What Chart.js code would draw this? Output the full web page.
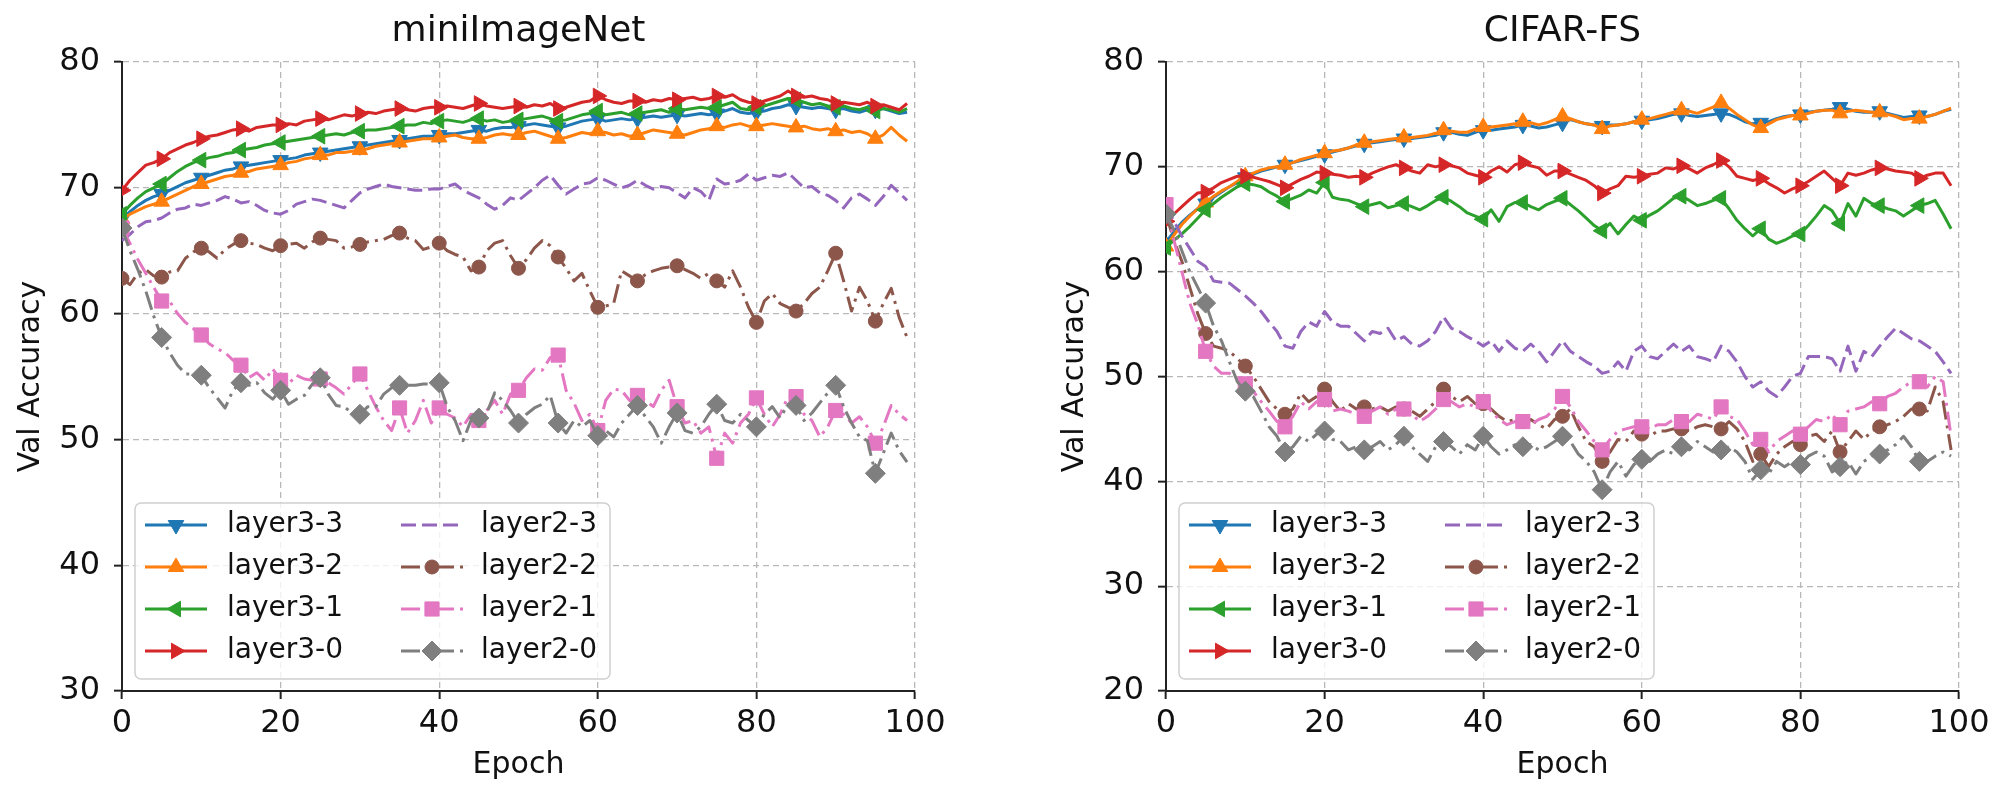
<!DOCTYPE html>
<html>
<head>
<meta charset="utf-8">
<script src="https://cdn.jsdelivr.net/npm/chart.js@4.4.1/dist/chart.umd.min.js"></script>
<style>
  html, body { margin: 0; padding: 0; background: #fff; overflow: hidden; }
  #wrap { position: relative; width: 1997px; height: 787px; }
  canvas { position: absolute; top: 0; }
  #left { left: 0; }
  #right { left: 1044px; }
</style>
</head>
<body>
<div id="wrap">
  <canvas id="left" width="1000" height="787"></canvas>
  <canvas id="right" width="953" height="787"></canvas>
</div>
<script>
// epochs 0..99
const epochs = Array.from({ length: 100 }, (_, i) => i);
const seriesNames = ["layer3-3", "layer3-2", "layer3-1", "layer3-0", "layer2-3", "layer2-2", "layer2-1", "layer2-0"];
const xTicks = [0, 20, 40, 60, 80, 100];
const miniYTicks = [30, 40, 50, 60, 70, 80];
const cifarYTicks = [20, 30, 40, 50, 60, 70, 80];

// miniImageNet
const miniL33 = [67.5,68.1,68.6,69.0,69.3, 69.5,69.8,70.1,70.4,70.6, 70.8,71.0,71.2,71.4,71.5, 71.7,71.8,71.9,72.0,72.1,
  72.2,72.3,72.4,72.6,72.7, 72.8,72.9,73.0,73.1,73.2, 73.3,73.4,73.5,73.6,73.7, 73.8,73.9,74.0,74.1,74.1,
  74.2,74.3,74.3,74.4,74.5, 74.6,74.5,74.7,74.8,74.8, 74.9,75.0,75.1,75.0,74.9, 74.8,74.9,75.1,75.3,75.4,
  75.5,75.3,75.4,75.5,75.4, 75.5,75.6,75.7,75.6,75.7, 75.8,75.7,75.8,75.9,75.8, 75.9,76.1,76.3,76.0,75.9,
  76.0,76.1,76.3,76.4,76.6, 76.5,76.4,76.3,76.4,76.3, 76.2,76.3,76.1,76.0,76.2, 76.2,76.3,76.1,75.9,76.0];
const miniL32 = [67.5,67.9,68.2,68.5,68.7, 68.9,69.2,69.5,69.8,70.1, 70.3,70.5,70.7,70.9,71.0, 71.2,71.3,71.5,71.6,71.7,
  71.8,72.0,72.1,72.3,72.4, 72.6,72.6,72.8,72.8,72.9, 73.0,73.1,73.3,73.4,73.5, 73.6,73.7,73.8,73.9,73.9,
  74.0,74.1,74.2,74.0,73.9, 73.9,74.0,74.2,74.3,74.2, 74.2,74.4,74.5,74.3,74.1, 73.9,74.0,74.2,74.4,74.3,
  74.5,74.4,74.2,74.3,74.1, 74.2,74.4,74.6,74.5,74.4, 74.3,74.2,74.4,74.6,74.7, 74.9,74.8,75.0,75.1,74.9,
  74.9,75.0,75.1,75.0,74.9, 74.8,74.9,74.7,74.6,74.7, 74.5,74.6,74.4,74.5,74.3, 73.9,74.2,74.8,74.2,73.7];
const miniL31 = [67.9,68.6,69.2,69.7,70.0, 70.3,70.8,71.3,71.7,72.0, 72.2,72.4,72.5,72.7,72.8, 73.0,73.1,73.2,73.4,73.5,
  73.6,73.7,73.8,73.9,74.0, 74.1,74.2,74.3,74.2,74.4, 74.5,74.6,74.6,74.7,74.8, 74.9,75.0,75.0,75.2,75.1,
  75.3,75.4,75.3,75.2,75.4, 75.5,75.3,75.4,75.2,75.3, 75.4,75.5,75.6,75.7,75.5, 75.3,75.4,75.6,75.8,75.9,
  76.1,75.8,75.9,76.0,75.8, 75.9,76.0,76.1,76.2,76.0, 76.3,76.2,76.3,76.4,76.3, 76.4,76.6,76.8,76.3,76.2,
  76.4,76.5,76.7,76.9,77.1, 77.0,76.8,76.6,76.7,76.5, 76.4,76.5,76.3,76.2,76.4, 76.1,76.3,76.2,76.0,76.3];
const miniL30 = [69.8,70.6,71.2,71.8,72.0, 72.3,72.8,73.1,73.4,73.6, 73.9,74.1,74.2,74.4,74.6, 74.7,74.5,74.8,74.9,75.0,
  75.0,75.1,75.0,75.3,75.4, 75.5,75.4,75.6,75.8,75.7, 75.9,76.0,75.9,76.1,76.2, 76.3,76.2,76.1,76.3,76.4,
  76.4,76.5,76.4,76.3,76.5, 76.7,76.5,76.4,76.3,76.4, 76.5,76.4,76.6,76.5,76.7, 76.3,76.4,76.6,76.8,76.9,
  77.3,77.0,76.8,76.7,76.9, 76.9,76.8,77.0,76.9,77.1, 77.0,77.1,77.2,77.0,77.1, 77.3,77.2,77.4,77.0,76.8,
  76.7,76.9,77.1,77.3,77.7, 77.3,77.2,77.3,77.1,77.0, 76.7,76.8,76.7,76.6,76.8, 76.5,76.6,76.4,76.2,76.7];
const miniL23 = [65.8,66.3,66.9,67.3,67.4, 67.6,68.0,68.3,68.4,68.7, 68.6,68.8,69.0,69.3,69.1, 68.8,68.9,68.6,68.2,68.0,
  67.9,68.2,68.7,68.9,69.1, 69.0,68.8,68.6,68.4,69.0, 69.6,69.9,70.1,70.3,70.1, 70.0,69.9,69.8,69.8,69.9,
  69.9,70.1,70.3,69.8,69.5, 69.2,68.7,68.3,68.6,69.2, 69.0,69.5,70.0,70.6,71.0, 70.2,69.5,69.9,70.3,70.4,
  70.8,70.6,70.3,70.0,70.2, 70.6,70.2,69.9,70.1,70.0, 69.6,69.2,70.0,69.7,69.0, 70.7,70.3,70.4,70.6,71.1,
  70.6,70.8,71.0,70.9,71.2, 70.6,70.0,70.1,69.6,69.4, 69.0,68.4,69.2,69.5,69.1, 68.6,69.3,70.2,69.6,69.0];
const miniL22 = [62.8,62.3,63.2,63.5,63.0, 62.9,63.3,63.4,64.4,64.9, 65.2,64.9,64.4,65.1,65.5, 65.8,65.6,65.5,65.2,65.0,
  65.4,65.5,65.6,65.2,65.7, 66.0,65.9,65.8,65.2,65.3, 65.5,65.7,65.8,65.9,66.2, 66.4,66.0,65.8,65.1,65.3,
  65.6,65.0,64.7,64.5,63.4, 63.7,65.0,65.6,65.8,64.6, 63.6,64.3,65.2,65.8,65.4, 64.5,63.6,62.6,63.2,61.8,
  60.5,60.6,60.8,63.4,63.0, 62.6,63.1,63.4,63.6,63.7, 63.8,63.5,63.2,62.8,63.2, 62.6,62.1,63.4,62.1,60.5,
  59.3,61.0,61.6,60.8,60.5, 60.2,60.8,61.6,62.1,63.4, 64.8,62.6,60.2,62.1,61.0, 59.4,60.8,62.0,59.7,58.1];
const miniL21 = [66.8,65.6,64.3,63.2,62.1, 61.0,61.0,60.0,59.3,58.8, 58.3,57.6,57.2,56.9,56.3, 55.9,54.9,55.3,54.7,55.6,
  54.7,54.4,55.1,54.8,54.7, 54.8,54.5,54.1,53.6,54.4, 55.2,53.9,52.6,51.5,50.7, 52.5,50.5,51.5,53.1,51.3,
  52.5,52.0,51.7,51.0,52.0, 51.5,52.3,53.1,52.0,53.6, 53.9,54.9,55.6,55.5,56.5, 56.7,53.9,52.9,51.5,52.0,
  50.7,53.1,54.0,53.9,53.1, 53.5,53.1,52.6,53.9,54.7, 52.6,51.3,51.5,50.5,51.0, 48.5,50.5,49.7,51.3,52.0,
  53.3,52.0,51.0,52.0,53.4, 53.4,52.0,51.5,50.2,51.0, 52.3,52.0,51.3,51.8,51.0, 49.7,51.0,52.7,52.0,51.5];
const miniL20 = [66.8,65.0,63.5,61.8,59.8, 58.1,56.9,55.9,55.2,55.2, 55.1,54.1,53.3,52.5,53.9, 54.5,54.3,54.5,53.7,53.2,
  53.9,52.8,53.2,53.5,54.4, 54.9,53.6,52.7,52.6,52.1, 52.0,52.6,52.6,53.6,54.1, 54.3,54.3,54.3,54.4,54.4,
  54.5,52.6,51.5,49.9,51.5, 51.7,52.1,53.7,53.1,52.3, 51.3,52.0,52.5,52.8,53.5, 51.3,50.5,51.5,51.0,51.5,
  50.3,50.7,50.2,51.3,52.0, 52.7,51.8,51.0,49.7,51.0, 52.1,50.7,50.5,51.0,52.0, 52.8,51.5,51.3,52.0,51.5,
  51.0,52.0,52.6,51.7,52.8, 52.7,51.5,52.1,52.9,53.7, 54.3,52.6,51.3,50.2,49.9, 47.3,48.9,50.5,49.1,48.2];

// CIFAR-FS
const cifarL33 = [62.8,63.8,64.7,65.4,66.0, 66.5,67.1,67.6,68.1,68.5, 69.0,69.3,69.6,69.8,70.0, 70.2,70.4,70.6,70.8,71.0,
  71.2,71.4,71.6,71.8,72.0, 72.2,72.3,72.4,72.5,72.6, 72.7,72.7,72.8,72.9,73.0, 73.3,73.3,73.1,73.0,73.3,
  73.5,73.5,73.6,73.7,73.8, 74.0,73.9,73.7,73.8,74.0, 74.2,74.5,74.3,74.1,74.0, 73.9,74.0,74.0,74.1,74.3,
  74.4,74.5,74.6,74.8,75.0, 75.1,74.9,74.8,74.9,75.0, 75.1,75.0,74.7,74.3,74.1, 74.2,74.3,74.6,74.8,74.9,
  75.0,75.2,75.3,75.4,75.5, 75.7,75.5,75.3,75.2,75.2, 75.3,75.1,74.9,74.7,74.8, 74.9,74.8,75.0,75.3,75.5];
const cifarL32 = [62.4,63.5,64.5,65.3,66.0, 66.6,67.2,67.7,68.1,68.6, 69.1,69.4,69.7,69.9,70.0, 70.2,70.4,70.7,70.9,71.1,
  71.3,71.5,71.6,71.8,72.1, 72.3,72.4,72.5,72.6,72.7, 72.8,72.8,72.9,73.0,73.2, 73.5,73.4,73.3,73.3,73.6,
  73.8,73.8,73.9,74.0,74.1, 74.3,74.2,74.0,74.2,74.5, 74.8,74.6,74.3,74.1,74.0, 73.6,73.9,74.0,74.1,74.3,
  74.5,74.6,74.8,75.0,75.2, 75.4,75.3,75.1,75.4,75.7, 76.1,75.6,75.0,74.5,74.0, 73.7,74.1,74.5,74.7,74.9,
  74.9,75.1,75.3,75.4,75.4, 75.1,75.3,75.4,75.3,75.2, 75.2,75.0,74.8,74.5,74.6, 74.6,74.8,75.0,75.3,75.6];
const cifarL31 = [62.3,63.0,63.6,64.3,65.1, 65.9,66.5,67.1,67.6,68.1, 68.4,68.3,68.1,67.6,67.2, 66.7,67.0,67.3,67.8,67.5,
  68.5,67.1,66.9,66.8,66.5, 66.2,66.4,66.6,66.1,66.3, 66.5,66.2,65.9,66.3,66.8, 67.1,66.7,66.2,65.6,65.3,
  65.0,65.9,64.8,66.2,66.6, 66.6,66.2,65.9,66.4,66.7, 67.0,66.4,65.8,65.1,64.4, 63.9,64.6,63.6,64.5,65.3,
  64.9,65.4,65.8,66.4,67.0, 67.2,66.8,66.3,66.5,66.8, 67.0,66.0,64.9,64.1,63.4, 64.1,63.1,62.7,63.0,63.4,
  63.6,64.4,65.3,66.3,65.8, 64.6,66.5,65.3,67.0,66.5, 66.3,66.0,65.8,65.3,65.8, 66.3,66.5,66.8,65.5,64.1];
const cifarL30 = [64.8,65.5,66.2,66.9,67.5, 67.6,68.0,68.5,68.8,69.1, 69.1,69.0,68.8,68.6,68.3, 68.0,68.4,68.8,69.1,69.5,
  69.4,69.3,69.2,69.0,69.1, 69.0,69.4,69.7,70.0,70.2, 69.9,69.6,69.4,70.2,70.0, 70.2,70.1,69.9,69.4,69.2,
  69.0,69.6,70.0,69.5,70.2, 70.4,70.1,69.9,69.2,69.6, 69.6,69.3,69.0,68.7,68.2, 67.5,67.9,68.2,69.1,69.0,
  69.1,69.3,69.4,69.9,69.8, 70.1,69.8,69.4,69.9,70.2, 70.6,70.0,69.1,68.9,68.7, 68.9,68.4,68.0,67.5,67.9,
  68.2,68.6,69.1,69.6,68.9, 68.2,69.4,69.2,69.4,69.7, 69.9,69.8,69.6,69.5,69.4, 68.9,69.2,69.4,69.4,68.2];
const cifarL23 = [66.3,64.8,63.4,62.2,61.0, 60.5,59.1,59.0,58.9,58.3, 57.7,57.0,56.2,55.2,54.3, 52.9,52.7,54.3,55.2,54.8,
  56.2,55.2,54.8,54.8,54.1, 53.4,54.3,54.1,54.6,53.4, 53.8,53.1,52.9,53.4,54.3, 55.7,54.6,54.3,53.8,53.4,
  52.9,53.4,52.4,53.4,52.7, 52.4,53.1,52.4,51.4,52.4, 53.4,52.4,51.9,51.4,51.0, 50.3,50.5,51.4,50.5,52.4,
  52.9,51.9,51.7,52.4,53.1, 52.4,52.9,51.9,51.7,51.4, 52.9,52.4,51.4,50.0,49.0, 49.5,48.6,48.1,49.0,50.0,
  50.3,51.9,51.9,51.9,51.7, 50.5,52.9,50.5,52.4,51.9, 52.9,53.8,54.6,54.1,53.6, 53.4,52.9,52.4,51.4,50.3];
const cifarL22 = [65.5,63.0,61.0,58.5,56.0, 54.1,52.9,52.7,52.4,51.7, 51.0,50.0,48.8,47.6,46.9, 46.4,46.9,48.4,47.6,48.1,
  48.8,47.6,46.7,47.4,46.9, 47.1,46.9,47.1,46.7,47.1, 46.9,46.7,46.2,46.9,47.6, 48.8,48.1,47.6,48.1,47.4,
  47.4,46.9,46.2,45.7,45.9, 45.7,45.9,45.4,45.0,45.9, 46.2,46.9,45.2,43.8,43.3, 41.9,42.8,44.0,43.8,44.8,
  44.5,44.3,44.8,44.8,45.0, 45.0,44.8,45.2,45.4,45.2, 45.0,45.7,45.0,43.8,41.9, 42.6,41.4,42.6,43.3,43.8,
  43.5,44.3,44.5,43.8,44.8, 42.8,43.8,44.8,44.0,44.8, 45.2,45.4,45.7,46.2,46.9, 46.9,46.7,49.0,47.6,43.0];
const cifarL21 = [66.4,63.0,60.0,57.0,55.0, 52.4,51.0,50.3,50.3,49.8, 49.3,48.6,47.6,46.7,45.7, 45.2,46.2,47.6,46.9,47.6,
  47.8,46.7,46.9,46.7,46.4, 46.2,46.7,47.1,46.4,46.9, 46.9,46.4,45.7,46.2,46.9, 47.8,47.6,47.1,47.4,47.1,
  47.6,46.7,45.9,45.4,45.7, 45.7,45.4,45.9,46.2,46.9, 48.1,47.1,45.7,44.8,43.8, 43.0,44.0,44.8,45.0,45.2,
  45.2,45.0,45.4,45.4,45.9, 45.7,45.7,46.4,46.2,45.9, 47.1,46.2,45.9,44.8,43.5, 44.0,42.8,43.8,44.3,44.8,
  44.5,45.2,45.9,45.7,46.4, 45.4,46.7,46.9,47.1,47.6, 47.4,48.1,48.4,49.0,49.5, 49.5,49.0,50.0,49.5,44.3];
const cifarL20 = [65.5,64.0,62.0,60.0,58.5, 57.0,54.8,53.4,51.4,49.5, 48.6,48.1,46.7,45.2,44.3, 42.8,43.3,44.3,43.8,44.5,
  44.8,44.0,43.8,43.0,43.3, 43.0,43.3,43.8,43.0,43.5, 44.3,43.3,42.6,41.9,43.3, 43.8,43.3,42.6,43.5,43.0,
  44.3,43.3,42.6,43.0,43.5, 43.3,43.5,43.0,43.3,43.8, 44.3,43.8,42.6,41.9,40.9, 39.2,40.9,41.9,40.5,41.6,
  42.1,41.9,42.6,43.0,42.6, 43.3,43.0,43.8,43.3,42.8, 43.0,43.3,42.8,41.9,40.2, 41.1,40.7,41.9,41.4,41.9,
  41.6,42.4,42.8,42.4,40.9, 41.4,41.9,40.7,41.9,42.4, 42.6,43.0,43.5,44.3,43.3, 41.9,41.9,42.4,42.8,42.4];

const miniSeries = [miniL33, miniL32, miniL31, miniL30, miniL23, miniL22, miniL21, miniL20];
const cifarSeries = [cifarL33, cifarL32, cifarL31, cifarL30, cifarL23, cifarL22, cifarL21, cifarL20];

const looks = [
  { color: "#1f77b4", marker: "triangle", rot: 180, r: 9, dash: [] },
  { color: "#ff7f0e", marker: "triangle", rot: 0, r: 9, dash: [] },
  { color: "#2ca02c", marker: "triangle", rot: -90, r: 9, dash: [] },
  { color: "#d62728", marker: "triangle", rot: 90, r: 9, dash: [] },
  { color: "#9467bd", marker: false, rot: 0, r: 0, dash: [15, 6] },
  { color: "#8c564b", marker: "circle", rot: 0, r: 7, dash: [19, 6, 3, 6] },
  { color: "#e377c2", marker: "rect", rot: 0, r: 10, dash: [19, 6, 3, 6] },
  { color: "#7f7f7f", marker: "rectRot", rot: 0, r: 10, dash: [19, 6, 3, 6] },
];

const FONT = "'DejaVu Sans', sans-serif";

const overlay = {
  id: "overlay",
  afterDraw(chart, args, opts) {
    const ctx = chart.ctx;
    const a = chart.chartArea;
    ctx.save();
    // title
    ctx.fillStyle = "#111";
    ctx.font = "36px " + FONT;
    ctx.textAlign = "center";
    ctx.textBaseline = "middle";
    ctx.fillText(opts.title, (a.left + a.right) / 2, 32);

    // legend
    const bw = 475, bh = 176;
    const bx = a.left + 13, by = a.bottom - 12 - bh;
    ctx.beginPath();
    ctx.roundRect(bx, by, bw, bh, 6);
    ctx.fillStyle = "rgba(255,255,255,0.8)";
    ctx.fill();
    ctx.strokeStyle = "#d0d0d0";
    ctx.lineWidth = 1.5;
    ctx.stroke();

    ctx.font = "28px " + FONT;
    ctx.textAlign = "left";
    chart.data.datasets.forEach((ds, i) => {
      const col = Math.floor(i / 4), row = i % 4;
      const hx = bx + (col ? 266 : 10);
      const cy = by + 22 + row * 42;
      ctx.strokeStyle = ds.borderColor;
      ctx.lineWidth = 3;
      ctx.setLineDash(ds.borderDash);
      ctx.beginPath();
      ctx.moveTo(hx, cy);
      ctx.lineTo(hx + 62, cy);
      ctx.stroke();
      ctx.setLineDash([]);
      const lk = looks[i];
      if (lk.marker) {
        ctx.fillStyle = lk.color;
        ctx.strokeStyle = lk.color;
        ctx.lineWidth = 1;
        Chart.helpers.drawPoint(ctx, { pointStyle: lk.marker, rotation: lk.rot, radius: lk.r, borderWidth: 1 }, hx + 31, cy);
      }
      ctx.fillStyle = "#111";
      ctx.fillText(ds.label, bx + (col ? 346 : 92), cy);
    });
    ctx.restore();
  },
};

function buildChart(canvasId, title, series, yMin, yMax) {
  const canvas = document.getElementById(canvasId);
  const datasets = series.map((vals, i) => ({
    label: seriesNames[i],
    data: vals,
    borderColor: looks[i].color,
    backgroundColor: looks[i].color,
    borderWidth: 3,
    borderDash: looks[i].dash,
    borderJoinStyle: "round",
    pointStyle: looks[i].marker,
    pointRotation: looks[i].rot,
    pointRadius: (c) => (c.dataIndex % 5 === 0 ? looks[i].r : 0),
    pointHoverRadius: 0,
    pointBorderWidth: 1,
    pointBorderColor: looks[i].color,
    pointBackgroundColor: looks[i].color,
    fill: false,
    order: 8 - i,
  }));

  return new Chart(canvas, {
    type: "line",
    data: { labels: epochs, datasets },
    options: {
      responsive: false,
      animation: false,
      devicePixelRatio: 1,
      events: [],
      layout: { padding: { left: 0, right: canvas.width - 915, top: 62, bottom: 0 } },
      plugins: {
        legend: { display: false },
        tooltip: { enabled: false },
        overlay: { title },
      },
      scales: {
        x: {
          type: "linear",
          min: 0,
          max: 100,
          afterBuildTicks: (s) => { s.ticks = xTicks.map((v) => ({ value: v })); },
          afterFit: (s) => { s.height = 96; s.paddingLeft = 0; s.paddingRight = 0; },
          ticks: { color: "#111", padding: 5, font: { family: FONT, size: 32 } },
          grid: { color: "#b8b8b8", lineWidth: 1.3, tickLength: 8, tickColor: "#222", tickWidth: 2, tickBorderDash: [] },
          border: { color: "#222", width: 2, dash: [6, 4] },
          title: { display: true, text: "Epoch", color: "#111", font: { family: FONT, size: 30 }, padding: { top: 0, bottom: 4 } },
        },
        y: {
          min: yMin,
          max: yMax,
          afterBuildTicks: (s) => { s.ticks = (yMin === 30 ? miniYTicks : cifarYTicks).map((v) => ({ value: v })); },
          afterFit: (s) => { s.width = 122; s.paddingTop = 0; s.paddingBottom = 0; },
          ticks: { color: "#111", padding: 14, font: { family: FONT, size: 32 } },
          grid: { color: "#b8b8b8", lineWidth: 1.3, tickLength: 8, tickColor: "#222", tickWidth: 2, tickBorderDash: [] },
          border: { color: "#222", width: 2, dash: [6, 4] },
          title: { display: true, text: "Val Accuracy", color: "#111", font: { family: FONT, size: 30 }, padding: { top: 13, bottom: 0 } },
        },
      },
    },
    plugins: [overlay],
  });
}

buildChart("left", "miniImageNet", miniSeries, 30, 80);
buildChart("right", "CIFAR-FS", cifarSeries, 20, 80);
</script>
</body>
</html>
